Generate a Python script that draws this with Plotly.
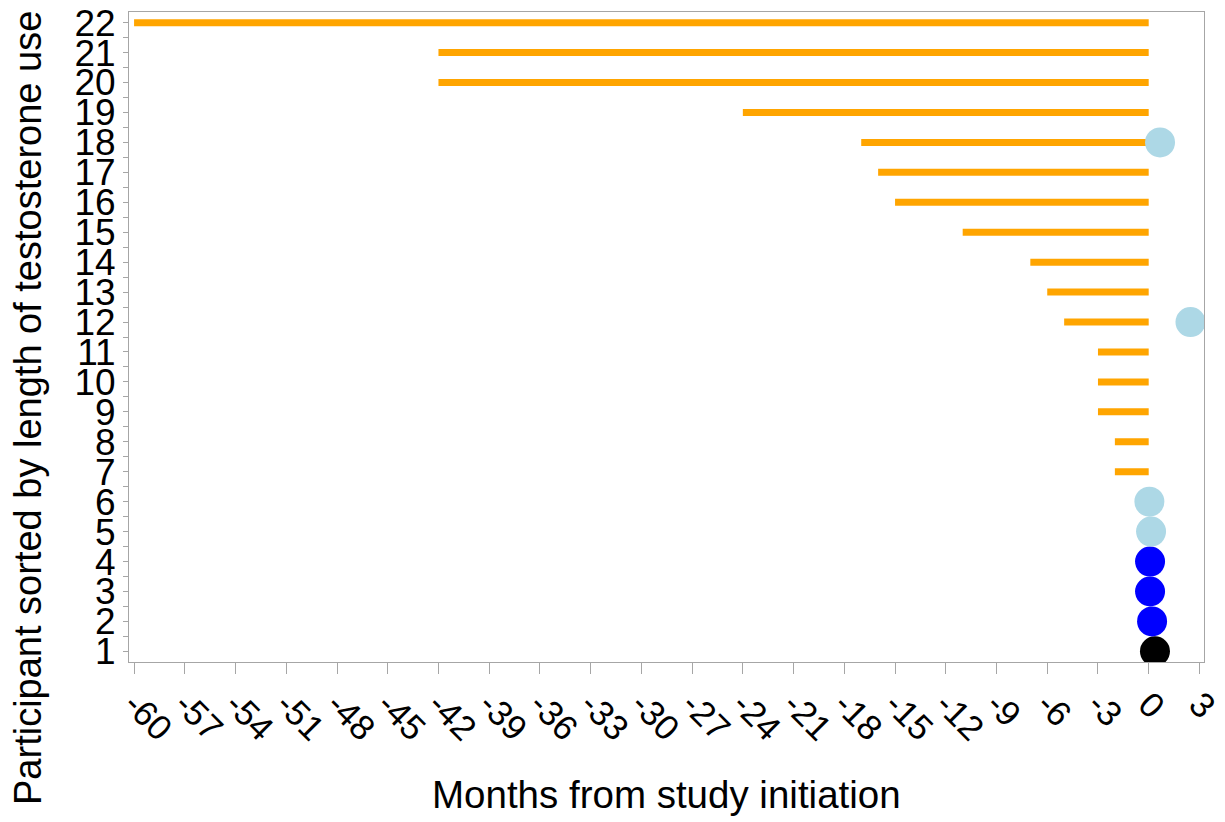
import plotly.graph_objects as go

# Data
participants = list(range(1, 23))
bar_participants = [7, 8, 9, 10, 11, 12, 13, 14, 15, 16, 17, 18, 19, 20, 21, 22]
bar_start = [-2, -2, -3, -3, -3, -5, -6, -7, -11, -15, -16, -17, -24, -42, -42, -60]
bar_end = [0] * len(bar_participants)

dot_participants = [1, 2, 3, 4, 5, 6, 12, 18]
dot_months = [0.37, 0.2, 0.08, 0.08, 0.14, 0.04, 2.47, 0.67]
dot_colors = ["black", "blue", "blue", "blue", "lightblue", "lightblue", "lightblue", "lightblue"]

x_ticks = list(range(-60, 4, 3))
x_ticktext = [str(v) for v in x_ticks]

x_title = "Months from study initiation"
y_title = "Participant sorted by length of testosterone use"

FONT = "Liberation Sans, Arial, sans-serif"
AXIS_COLOR = "#a6a6a6"

# Build line segments for bars
seg_x, seg_y = [], []
for p, s, e in zip(bar_participants, bar_start, bar_end):
    seg_x += [s, e, None]
    seg_y += [p, p, None]

fig = go.Figure()
fig.add_trace(go.Scatter(
    x=seg_x, y=seg_y, mode="lines",
    line=dict(color="#FFA500", width=7),
    hoverinfo="skip", showlegend=False,
))
fig.add_trace(go.Scatter(
    x=dot_months, y=dot_participants, mode="markers",
    marker=dict(size=30, color=dot_colors, line=dict(width=0)),
    showlegend=False,
))

# page body adds an 8px offset, so size/margins account for it
fig.update_layout(
    width=1217, height=814,
    margin=dict(l=121, r=21, t=4, b=160, autoexpand=False),
    paper_bgcolor="white", plot_bgcolor="white",
    font=dict(family=FONT, color="black"),
    showlegend=False,
)
fig.update_xaxes(
    range=[-60.3, 3.27],
    tickvals=x_ticks, ticktext=x_ticktext,
    tickangle=45,
    tickfont=dict(size=35, family=FONT, color="black"),
    ticks="outside", ticklen=11, tickcolor=AXIS_COLOR, tickwidth=1,
    ticklabelstandoff=-4, ticklabeloverflow="allow",
    showline=True, linecolor=AXIS_COLOR, linewidth=1, mirror=True,
    showgrid=False, zeroline=False, automargin=False,
)
fig.update_yaxes(
    range=[0.645, 22.355],
    tickvals=participants, ticktext=[str(p) for p in participants],
    tickfont=dict(size=37, family=FONT, color="black"),
    ticks="outside", ticklen=5, tickcolor=AXIS_COLOR, tickwidth=1,
    ticklabeloverflow="allow",
    minor=dict(tick0=0.5, dtick=1, ticks="outside", ticklen=5, tickcolor=AXIS_COLOR),
    showline=True, linecolor=AXIS_COLOR, linewidth=1, mirror=True,
    showgrid=False, zeroline=False, automargin=False,
)

fig.add_annotation(
    text=x_title, xref="paper", yref="paper", x=0.5, y=-0.2046,
    xanchor="center", yanchor="middle", showarrow=False,
    font=dict(size=38.5, family=FONT, color="black"),
)
fig.add_annotation(
    text=y_title, xref="paper", yref="paper", x=0, y=0.3908,
    xshift=-101, xanchor="center", yanchor="middle", showarrow=False,
    textangle=-90, font=dict(size=38, family=FONT, color="black"),
)

fig.write_html("out.html")
